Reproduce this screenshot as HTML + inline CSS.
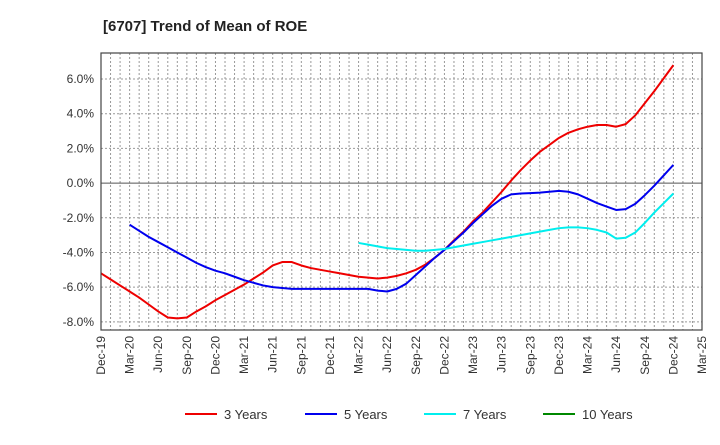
<!DOCTYPE html>
<html><head><meta charset="utf-8"><style>
body{margin:0;background:#fff;font-family:"Liberation Sans",sans-serif}
svg text{font-family:"Liberation Sans",sans-serif}
</style></head><body>
<svg id="c" width="720" height="440" xmlns="http://www.w3.org/2000/svg">
<text x="103" y="31" font-size="15" font-weight="bold" fill="#222">[6707]  Trend of Mean of ROE</text>
<g id="grid"></g><g id="series"></g><g id="axes"></g><g id="legend"></g>
</svg>
<script>
const xLabels=["Dec-19","Mar-20","Jun-20","Sep-20","Dec-20","Mar-21","Jun-21","Sep-21","Dec-21","Mar-22","Jun-22","Sep-22","Dec-22","Mar-23","Jun-23","Sep-23","Dec-23","Mar-24","Jun-24","Sep-24","Dec-24","Mar-25"];
const yTicks=[-8,-6,-4,-2,0,2,4,6];
const red3=[-5.2,-5.55,-5.9,-6.25,-6.6,-7.0,-7.4,-7.75,-7.8,-7.75,-7.4,-7.1,-6.75,-6.45,-6.15,-5.85,-5.5,-5.15,-4.75,-4.55,-4.55,-4.75,-4.9,-5.0,-5.1,-5.2,-5.3,-5.4,-5.45,-5.5,-5.45,-5.35,-5.2,-5.0,-4.7,-4.3,-3.85,-3.3,-2.8,-2.2,-1.7,-1.1,-0.5,0.15,0.75,1.3,1.8,2.2,2.6,2.9,3.1,3.25,3.35,3.35,3.25,3.4,3.9,4.6,5.3,6.05,6.8];
const blue5Start=3;
const blue5=[-2.4,-2.75,-3.1,-3.4,-3.7,-4.0,-4.3,-4.6,-4.85,-5.05,-5.2,-5.4,-5.6,-5.75,-5.9,-6.0,-6.05,-6.1,-6.1,-6.1,-6.1,-6.1,-6.1,-6.1,-6.1,-6.1,-6.2,-6.25,-6.1,-5.8,-5.3,-4.8,-4.3,-3.85,-3.35,-2.85,-2.3,-1.8,-1.3,-0.9,-0.65,-0.6,-0.58,-0.55,-0.5,-0.45,-0.5,-0.65,-0.9,-1.15,-1.35,-1.55,-1.5,-1.2,-0.7,-0.15,0.45,1.05];
const cyan7Start=27;
const cyan7=[-3.45,-3.55,-3.65,-3.75,-3.8,-3.85,-3.9,-3.9,-3.85,-3.8,-3.7,-3.6,-3.5,-3.4,-3.3,-3.2,-3.1,-3.0,-2.9,-2.8,-2.7,-2.6,-2.55,-2.55,-2.6,-2.7,-2.85,-3.2,-3.15,-2.85,-2.3,-1.7,-1.15,-0.6];
const green10=[];
const L=101,R=702,T=53,B=330,yMin=-8.47,yMax=7.5,months=63;
const sx=m=>L+(R-L)*m/months;
const sy=v=>B-(B-T)*(v-yMin)/(yMax-yMin);
const NS="http://www.w3.org/2000/svg";
function mk(tag,attrs,parent){const e=document.createElementNS(NS,tag);for(const k in attrs)e.setAttribute(k,attrs[k]);parent.appendChild(e);return e;}
const grid=document.getElementById('grid'),axes=document.getElementById('axes'),ser=document.getElementById('series'),leg=document.getElementById('legend');
for(let m=1;m<months;m++){const l=mk('line',{x1:sx(m),x2:sx(m),y1:T,y2:B,stroke:'#999','stroke-dasharray':'2,2','stroke-width':1},grid);

}
yTicks.forEach(v=>{const y=sy(v);const l=mk('line',{x1:L,x2:R,y1:y,y2:y,stroke:v===0?'#555':'#999','stroke-dasharray':v===0?'':'2,2','stroke-width':1},grid);


const t=mk('text',{x:L-7,y:y+4,'text-anchor':'end','font-size':12,fill:'#333'},axes);t.textContent=v.toFixed(1)+'%';

});
const fr=mk('rect',{x:L,y:T,width:R-L,height:B-T,fill:'none',stroke:'#444','stroke-width':1.2},axes);


xLabels.forEach((s,i)=>{const x=sx(i*3);const t=mk('text',{transform:`translate(${x+4},${B+6}) rotate(-90)`,'text-anchor':'end','font-size':12,fill:'#333'},axes);t.textContent=s;

});
function line(arr,start,color,name){if(!arr.length)return;const p=mk('polyline',{points:arr.map((v,i)=>sx(start+i)+','+sy(v)).join(' '),fill:'none',stroke:color,'stroke-width':2,'stroke-linejoin':'round'},ser);

}
line(red3,0,'#ee0000','series-3-years');
line(blue5,blue5Start,'#0000ee','series-5-years');
line(cyan7,cyan7Start,'#00eeee','series-7-years');
line(green10,0,'#008800','series-10-years');
const items=[['3 Years','#ee0000',185],['5 Years','#0000ee',305],['7 Years','#00eeee',424],['10 Years','#008800',543]];
items.forEach(([n,c,x])=>{const g=mk('g',{},leg);


mk('line',{x1:x,x2:x+32,y1:414,y2:414,stroke:c,'stroke-width':2},g);
const t=mk('text',{x:x+39,y:419,'font-size':13,fill:'#333'},g);t.textContent=n;});
</script>
</body></html>
